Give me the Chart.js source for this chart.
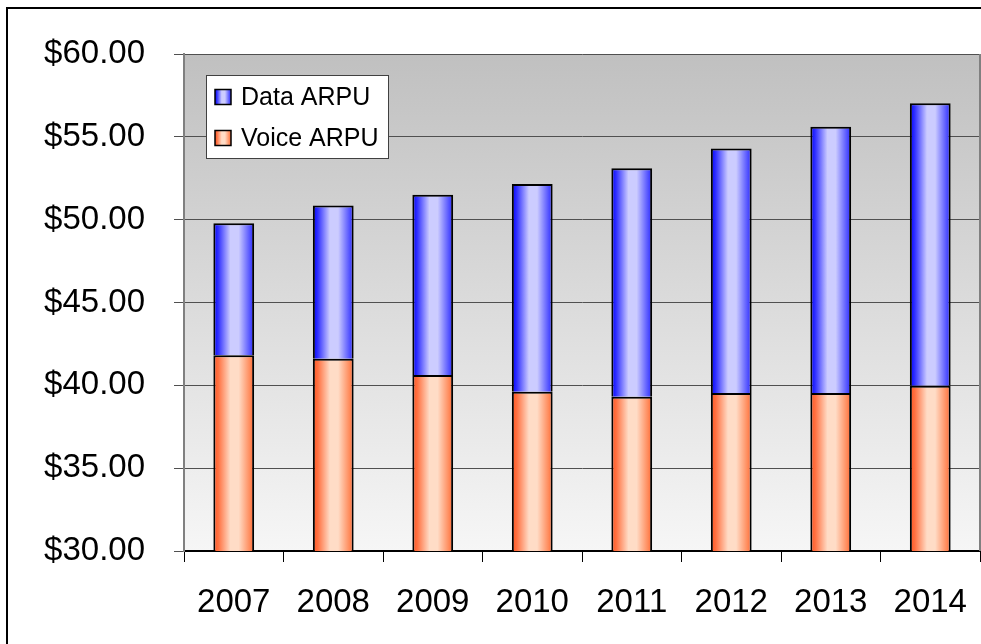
<!DOCTYPE html>
<html>
<head>
<meta charset="utf-8">
<title>ARPU</title>
<script src="https://cdn.jsdelivr.net/npm/chart.js@4/dist/chart.umd.min.js"></script>
<style>
    html, body { margin: 0; padding: 0; background: #fff; overflow: hidden; }
    canvas { display: block; }
</style>
</head>
<body>
<canvas id="arpuChart" width="981" height="644"></canvas>
<script>
// Chart data
const years = ['2007', '2008', '2009', '2010', '2011', '2012', '2013', '2014'];
const voiceArpu = [41.81, 41.61, 40.62, 39.61, 39.31, 39.54, 39.54, 39.98];
const dataArpu = [7.97, 9.25, 10.88, 12.54, 13.80, 14.76, 16.07, 17.04];
const yTicks = [30, 35, 40, 45, 50, 55, 60];

const FONT = 'Liberation Sans, Arial, sans-serif';
const BAR_PCT = 0.41;

// Gradient colour stops (edge -> centre -> edge)
const blueStops = [[0, '#0000ff'], [0.12, '#3030ff'], [0.42, '#ccccff'], [0.62, '#ccccff'], [0.9, '#5252ff'], [1, '#2a2aff']];
const orangeStops = [[0, '#ff5522'], [0.12, '#ff7040'], [0.42, '#ffdcc6'], [0.62, '#ffdcc6'], [0.9, '#ff8a5a'], [1, '#ff6633']];

function makeGradient(c, x0, x1, stops) {
    const g = c.createLinearGradient(x0, 0, x1, 0);
    stops.forEach(s => g.addColorStop(s[0], s[1]));
    return g;
}

function barFill(stops) {
    return (ctx) => {
        const chart = ctx.chart;
        const xs = chart.scales.x;
        if (!xs || ctx.type !== 'data') return stops[2][1];
        const centre = xs.getPixelForValue(ctx.dataIndex);
        const size = (xs.width / years.length) * BAR_PCT;
        if (!isFinite(centre) || !isFinite(size) || size <= 0) return stops[2][1];
        return makeGradient(chart.ctx, centre - size / 2, centre + size / 2, stops);
    };
}

// Plot background, frame and outer border
const framePlugin = {
    id: 'frame',
    beforeDraw(chart) {
        const { ctx, chartArea: a } = chart;
        ctx.save();
        const g = ctx.createLinearGradient(0, a.top, 0, a.bottom);
        g.addColorStop(0, '#c0c0c0');
        g.addColorStop(1, '#f6f6f6');
        ctx.fillStyle = g;
        ctx.fillRect(a.left, a.top, a.right - a.left, a.bottom - a.top);
        ctx.restore();
    },
    afterDraw(chart) {
        const { ctx, chartArea: a } = chart;
        ctx.save();
        ctx.strokeStyle = '#808080';
        ctx.lineWidth = 2;
        ctx.beginPath();
        ctx.moveTo(a.right, a.top);
        ctx.lineTo(a.right, a.bottom);
        ctx.stroke();
        // outer border (right and bottom run off the picture)
        ctx.strokeStyle = '#000';
        ctx.lineWidth = 2;
        ctx.beginPath();
        ctx.moveTo(7, chart.height + 5);
        ctx.lineTo(7, 8);
        ctx.lineTo(chart.width + 5, 8);
        ctx.stroke();
        ctx.restore();
    }
};

// Legend box drawn inside the plot area
const legendPlugin = {
    id: 'boxLegend',
    afterDatasetsDraw(chart) {
        const { ctx, chartArea: a } = chart;
        const x = a.left + 22, y = a.top + 21, w = 182, h = 83;
        ctx.save();
        ctx.fillStyle = '#fff';
        ctx.fillRect(x, y, w, h);
        ctx.strokeStyle = '#404040';
        ctx.lineWidth = 1;
        ctx.strokeRect(x + 0.5, y + 0.5, w, h);
        const items = chart.data.datasets.slice().reverse();
        items.forEach((ds, i) => {
            const cy = y + 22 + i * 41;
            const sx = x + 9, sw = 16, sh = 15;
            ctx.fillStyle = makeGradient(ctx, sx, sx + sw, ds.legendStops);
            ctx.fillRect(sx, cy - sh / 2, sw, sh);
            ctx.strokeStyle = '#000';
            ctx.lineWidth = 1.5;
            ctx.strokeRect(sx, cy - sh / 2, sw, sh);
            ctx.fillStyle = '#000';
            ctx.font = '25px ' + FONT;
            ctx.textBaseline = 'middle';
            ctx.textAlign = 'left';
            ctx.fillText(ds.label, x + 35, cy + 1);
        });
        ctx.restore();
    }
};

Chart.defaults.color = '#000';
Chart.defaults.font.family = FONT;

const chart = new Chart(document.getElementById('arpuChart'), {
    type: 'bar',
    data: {
        labels: years,
        datasets: [
            {
                label: 'Voice ARPU',
                data: voiceArpu,
                backgroundColor: barFill(orangeStops),
                legendStops: orangeStops,
                borderColor: '#000',
                borderWidth: 2,
                borderSkipped: false
            },
            {
                label: 'Data ARPU',
                data: dataArpu,
                backgroundColor: barFill(blueStops),
                legendStops: blueStops,
                borderColor: '#000',
                borderWidth: 2,
                borderSkipped: 'start'
            }
        ]
    },
    options: {
        responsive: false,
        animation: false,
        devicePixelRatio: 1,
        datasets: {
            bar: { categoryPercentage: 1, barPercentage: BAR_PCT }
        },
        layout: { padding: { top: 54, right: 1, bottom: 0, left: 0 } },
        plugins: {
            legend: { display: false },
            tooltip: { enabled: false }
        },
        scales: {
            x: {
                stacked: true,
                grid: {
                    drawOnChartArea: false,
                    color: '#000',
                    tickLength: 11,
                    offset: true
                },
                border: { color: '#000', width: 2 },
                ticks: {
                    font: { size: 33 },
                    padding: 21,
                    maxRotation: 0
                },
                afterFit(scale) {
                    scale.height = 93;
                    scale.paddingLeft = 0;
                    scale.paddingRight = 0;
                }
            },
            y: {
                stacked: true,
                min: yTicks[0],
                max: yTicks[yTicks.length - 1],
                afterBuildTicks(scale) {
                    scale.ticks = yTicks.map(v => ({ value: v }));
                },
                grid: {
                    color: '#505050',
                    lineWidth: 1,
                    tickLength: 10
                },
                border: { color: '#808080', width: 2 },
                ticks: {
                    font: { size: 33 },
                    padding: 29,
                    callback: v => '$' + Number(v).toFixed(2)
                },
                afterFit(scale) { scale.width = 184; }
            }
        }
    },
    plugins: [framePlugin, legendPlugin]
});
</script>
</body>
</html>
